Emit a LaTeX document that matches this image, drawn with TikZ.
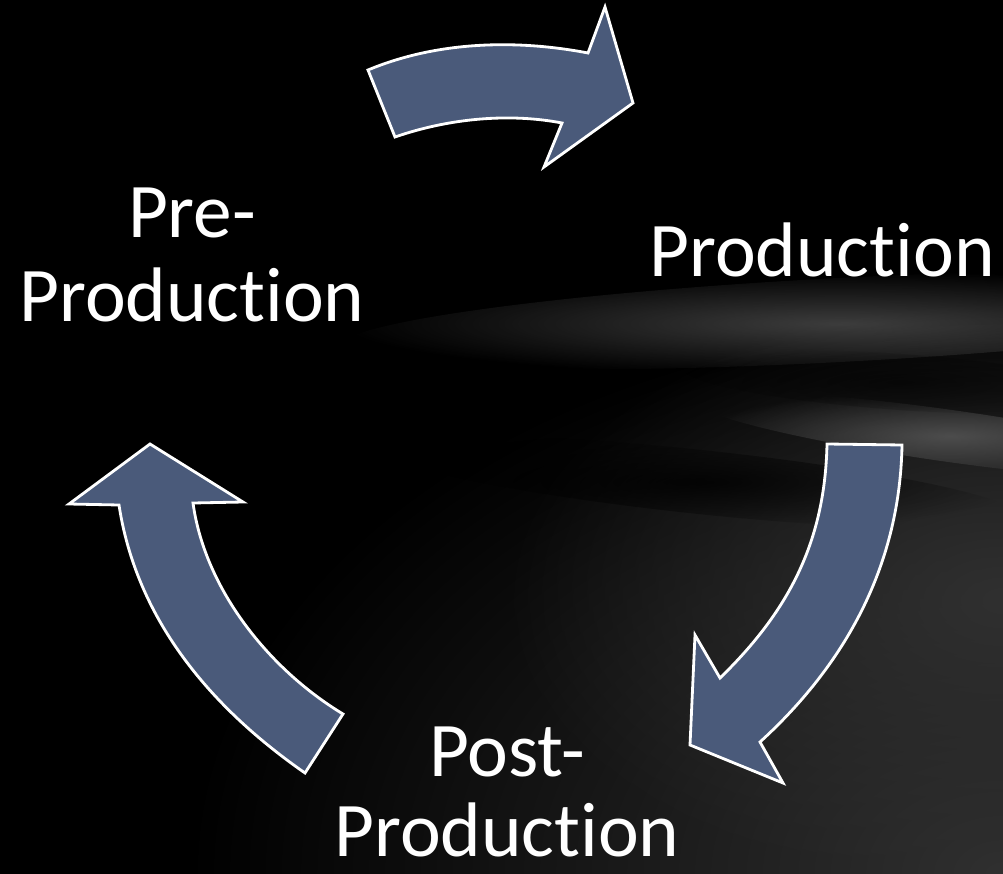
\documentclass[tikz,border=0pt]{standalone}
\usepackage{fontspec}
\setmainfont[Ligatures=NoCommon]{Carlito}
\usetikzlibrary{fadings}
\definecolor{arrowfill}{RGB}{74,90,122}
\definecolor{bgA}{RGB}{48,48,48}
\definecolor{bgS}{RGB}{110,110,110}
\tikzfading[name=softblob, inner color=transparent!0, outer color=transparent!100]
\begin{document}
\begin{tikzpicture}[x=0.02cm, y=-0.02cm,
  cyclearrow/.style={fill=arrowfill, draw=white, line width=1.6pt, line join=miter},
  lbl/.style={text=white, font=\fontsize{44}{48}\selectfont, align=center, inner sep=0pt, anchor=base}]
\useasboundingbox (0,0) rectangle (1003,874);
% background
\fill[black] (0,0) rectangle (1003,874);
\fill[bgA, path fading=softblob] (1003,874) ellipse [x radius=820, y radius=560];
\fill[bgA, path fading=softblob] (1003,600) ellipse [x radius=500, y radius=300];
\fill[bgS, opacity=0.55, path fading=softblob, rotate around={3:(840,320)}] (840,320) ellipse [x radius=500, y radius=42];
\fill[bgS, opacity=0.6, path fading=softblob, rotate around={-8:(950,436)}] (950,436) ellipse [x radius=260, y radius=26];
\fill[black, opacity=0.8, path fading=softblob, rotate around={-6:(700,482)}] (700,482) ellipse [x radius=320, y radius=32];
\fill[black, opacity=0.5, path fading=softblob, rotate around={-4:(900,382)}] (900,382) ellipse [x radius=220, y radius=28];
% arrows
\path[cyclearrow] (368,70) .. controls (440,40) and (520,40) .. (588,53) -- (605,7) -- (633,103) -- (544,167) -- (562,123) .. controls (510,113) and (450,118) .. (395,137) -- cycle;
\path[cyclearrow] (827,444) -- (902,445) .. controls (900,560) and (850,660) .. (760,742) -- (783,783) -- (690,745) -- (695,635) -- (720,678) .. controls (790,610) and (825,540) .. (827,444) -- cycle;
\path[cyclearrow] (150,444) -- (243,502) -- (193,503) .. controls (205,590) and (270,670) .. (343,714) -- (305,773) .. controls (200,700) and (135,610) .. (119,505) -- (69,504) -- cycle;
% labels
\node[lbl] (pre) at (192,322) {Pre-\\Production};
\node[lbl] (prod) at (822,277) {Production};
\node[lbl, font=\fontsize{44}{45.5}\selectfont] (post) at (507,856) {Post-\\Production};
\end{tikzpicture}
\end{document}
